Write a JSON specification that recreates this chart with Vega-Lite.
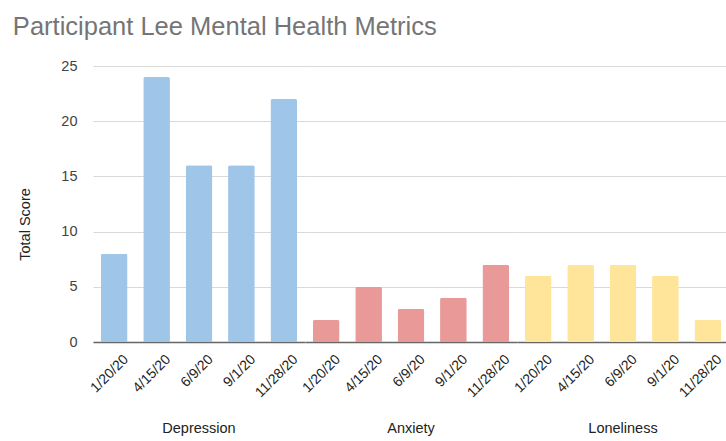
{
  "$schema": "https://vega.github.io/schema/vega-lite/v6.json",
  "padding": {"left": 12, "top": 14, "right": 0, "bottom": 0},
  "bounds": "flush",
  "title": {"text": "Participant Lee Mental Health Metrics", "anchor": "start", "frame": "bounds", "fontSize": 25.5, "font": "Liberation Sans", "fontWeight": "normal", "color": "#757575", "offset": 18, "dx": -5},
  "data": {"values": [
    {"group": "Depression", "date": "1/20/20", "score": 8},
    {"group": "Depression", "date": "4/15/20", "score": 24},
    {"group": "Depression", "date": "6/9/20", "score": 16},
    {"group": "Depression", "date": "9/1/20", "score": 16},
    {"group": "Depression", "date": "11/28/20", "score": 22},
    {"group": "Anxiety", "date": "1/20/20", "score": 2},
    {"group": "Anxiety", "date": "4/15/20", "score": 5},
    {"group": "Anxiety", "date": "6/9/20", "score": 3},
    {"group": "Anxiety", "date": "9/1/20", "score": 4},
    {"group": "Anxiety", "date": "11/28/20", "score": 7},
    {"group": "Loneliness", "date": "1/20/20", "score": 6},
    {"group": "Loneliness", "date": "4/15/20", "score": 7},
    {"group": "Loneliness", "date": "6/9/20", "score": 7},
    {"group": "Loneliness", "date": "9/1/20", "score": 6},
    {"group": "Loneliness", "date": "11/28/20", "score": 2}
  ]},
  "facet": {"column": {"field": "group", "type": "nominal", "sort": ["Depression", "Anxiety", "Loneliness"],
    "header": {"title": null, "labelOrient": "bottom", "labelFontSize": 14.5, "labelFont": "Liberation Sans", "labelColor": "#222222", "labelPadding": 80}}},
  "spacing": 0,
  "resolve": {"scale": {"x": "independent"}},
  "spec": {
    "width": 212,
    "height": 276,
    "mark": {"type": "bar", "cornerRadiusEnd": 2},
    "encoding": {
      "x": {"field": "date", "type": "nominal", "sort": ["1/20/20", "4/15/20", "6/9/20", "9/1/20", "11/28/20"],
        "scale": {"paddingInner": 0.37, "paddingOuter": 0.185},
        "axis": {"title": null, "labelAngle": -45, "labelFontSize": 14, "labelColor": "#222222", "ticks": false, "labelPadding": 10, "labelOffset": 7, "domainColor": "#666666", "domainWidth": 1.5, "grid": false}},
      "y": {"field": "score", "type": "quantitative", "scale": {"domain": [0, 25]},
        "axis": {"title": "Total Score", "titleY": 158, "values": [0, 5, 10, 15, 20, 25], "domain": false, "ticks": false, "labelPadding": 16, "labelFontSize": 14.5, "labelColor": "#444444", "titleFontSize": 14.5, "titleFontWeight": "normal", "titleColor": "#222222", "titlePadding": 28, "gridColor": "#d9d9d9"}},
      "color": {"field": "group", "type": "nominal", "scale": {"domain": ["Depression", "Anxiety", "Loneliness"], "range": ["#9fc5e8", "#ea9999", "#ffe599"]}, "legend": null}
    }
  },
  "config": {"view": {"stroke": null}, "font": "Liberation Sans", "axis": {"labelFont": "Liberation Sans", "titleFont": "Liberation Sans"}}
}
